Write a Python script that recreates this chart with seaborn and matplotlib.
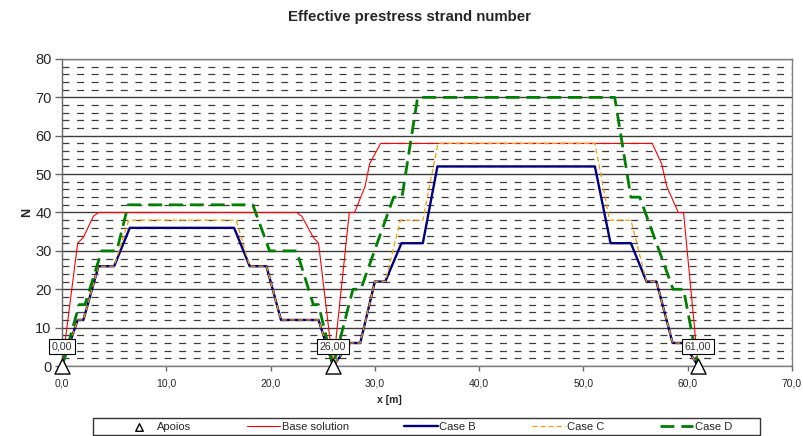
import matplotlib
matplotlib.use('Agg')
import matplotlib.pyplot as plt
import seaborn as sns
from matplotlib.ticker import MultipleLocator, FuncFormatter
from matplotlib.patches import Rectangle

# ---------------- data ----------------
base_x = [0.0, 1.5, 2.05, 3.0, 3.5, 22.5, 23.0, 24.1, 24.6, 26.0,
          27.55, 28.05, 29.05, 29.5, 30.55, 56.6, 57.5, 58.0, 59.1, 59.6, 61.0]
base_y = [0, 32, 33.5, 39, 40, 40, 39, 33.5, 32, 0,
          40, 40, 46.7, 52.7, 58, 58, 52.7, 46.7, 40, 40, 0]

caseb_x = [0.0, 1.5, 2.05, 3.5, 5.0, 6.5, 16.5, 18.0, 19.6, 21.0, 24.6, 26.0,
           27.6, 28.6, 30.0, 31.0, 32.55, 34.6, 36.0, 51.1, 52.6, 54.55, 56.05,
           57.0, 58.55, 59.6, 61.0]
caseb_y = [0, 12, 12, 26, 26, 36, 36, 26, 26, 12, 12, 0,
           6, 6, 22, 22, 32, 32, 52, 52, 32, 32, 22,
           22, 6, 6, 0]

casec_x = [0.0, 1.5, 2.05, 3.5, 5.0, 6.4, 16.7, 18.0, 19.6, 21.0, 24.6, 26.0,
           27.6, 28.6, 30.0, 31.0, 32.45, 34.6, 36.05, 51.1, 52.5, 54.55, 56.05,
           57.0, 58.55, 59.6, 61.0]
casec_y = [0, 12, 12, 26, 26, 38, 38, 26, 26, 12, 12, 0,
           6, 6, 22, 22, 38, 38, 58, 58, 38, 38, 22,
           22, 6, 6, 0]

cased_x = [0.0, 1.65, 2.2, 3.8, 5.25, 6.35, 18.3, 19.9, 22.5, 24.1, 24.6, 26.0,
           27.9, 28.65, 31.8, 32.6, 34.1, 53.0, 54.55, 55.4, 58.6, 59.6, 61.0]
cased_y = [0, 16, 16, 30, 30, 42, 42, 30, 30, 16, 16, 0,
           20, 20, 44, 44, 70, 70, 44, 44, 20, 20, 0]

supports_x = [0.0, 26.0, 61.0]
supports_y = [0, 0, 0]

series_names = ['Base solution', 'Case B', 'Case C', 'Case D']

# ---------------- style ----------------
sns.set_style('white')
plt.rcParams['font.family'] = ['Liberation Sans', 'DejaVu Sans']
plt.rcParams['lines.scale_dashes'] = False

fig = plt.figure(figsize=(8.04, 4.36), dpi=100)
ax = fig.add_axes([62 / 804, 70 / 436, 730 / 804, 307 / 436])

sns.scatterplot(x=supports_x, y=supports_y, marker='^', s=118,
                facecolor='white', edgecolor='black', linewidth=1.0,
                clip_on=False, zorder=6, label='Apoios', ax=ax)

styles = [
    dict(color='#FF0000', linewidth=0.8, linestyle='-'),
    dict(color='#000080', linewidth=1.7, linestyle='-'),
    dict(color='#FF9900', linewidth=0.9, linestyle=(0, (3.6, 2.2))),
    dict(color='#008000', linewidth=2.0, linestyle=(0, (10, 5))),
]
data = [(base_x, base_y), (caseb_x, caseb_y), (casec_x, casec_y), (cased_x, cased_y)]
for name, (xs, ys), kw in zip(series_names, data, styles):
    sns.lineplot(x=xs, y=ys, sort=False, estimator=None, label=name, ax=ax,
                 zorder=3, **kw)

# support labels
for sx in supports_x:
    ax.text(sx, 5.1, f"{sx:.2f}".replace('.', ','), ha='center', va='center',
            fontsize=7.7, color='#333333', zorder=8,
            bbox=dict(boxstyle='square,pad=0.25', fc='white', ec='black', lw=0.8))

# axes
ax.set_xlim(0, 70)
ax.set_ylim(0, 80)
ax.xaxis.set_major_locator(MultipleLocator(10))
ax.yaxis.set_major_locator(MultipleLocator(10))
ax.yaxis.set_minor_locator(MultipleLocator(2))
ax.xaxis.set_major_formatter(FuncFormatter(lambda v, p: f"{v:.1f}".replace('.', ',')))
ax.yaxis.set_major_formatter(FuncFormatter(lambda v, p: f"{v:.0f}"))

ax.grid(which='major', axis='y', color='#3c3c3c', linewidth=1.0, linestyle='-', zorder=0)
ax.grid(which='minor', axis='y', color='#3c3c3c', linewidth=0.9,
        linestyle=(0, (5, 5.5)), zorder=0)
ax.set_axisbelow(True)

ax.tick_params(axis='y', which='major', left=True, direction='out', length=5,
               width=1, color='#666666', labelsize=10.5, pad=2.5)
ax.tick_params(axis='y', which='minor', left=False, length=0)
ax.tick_params(axis='x', which='major', bottom=True, direction='out', length=3.5,
               width=1, color='#666666', labelsize=7.5, pad=5.5)

for side in ['left', 'right', 'top', 'bottom']:
    ax.spines[side].set_visible(True)
    ax.spines[side].set_color('#808080')
    ax.spines[side].set_linewidth(1.0)
ax.spines['left'].set_color('#666666')

ax.set_xlabel('x [m]', fontsize=7.5, fontweight='bold')
ax.xaxis.set_label_coords(0.448, -0.093)
ax.set_ylabel('N', fontsize=9, fontweight='bold')
ax.yaxis.set_label_coords(-0.040, 0.50)

fig.text(0.509, 0.962, 'Effective prestress strand number', ha='center', va='center',
         fontsize=10.8, fontweight='bold')

# legend
handles, labels = ax.get_legend_handles_labels()
ax.legend(handles, labels, loc='center', bbox_to_anchor=(0.531, 0.0206),
          bbox_transform=fig.transFigure, ncol=5, frameon=False, fontsize=8,
          handlelength=3.0, handletextpad=0.15, columnspacing=5.0, markerscale=0.5)
fig.add_artist(Rectangle((93 / 804, 0.6 / 436), 667 / 804, 17.4 / 436,
                         transform=fig.transFigure, fill=False,
                         edgecolor='#333333', linewidth=1.0))

fig.savefig('out.png', dpi=100, facecolor='white')
